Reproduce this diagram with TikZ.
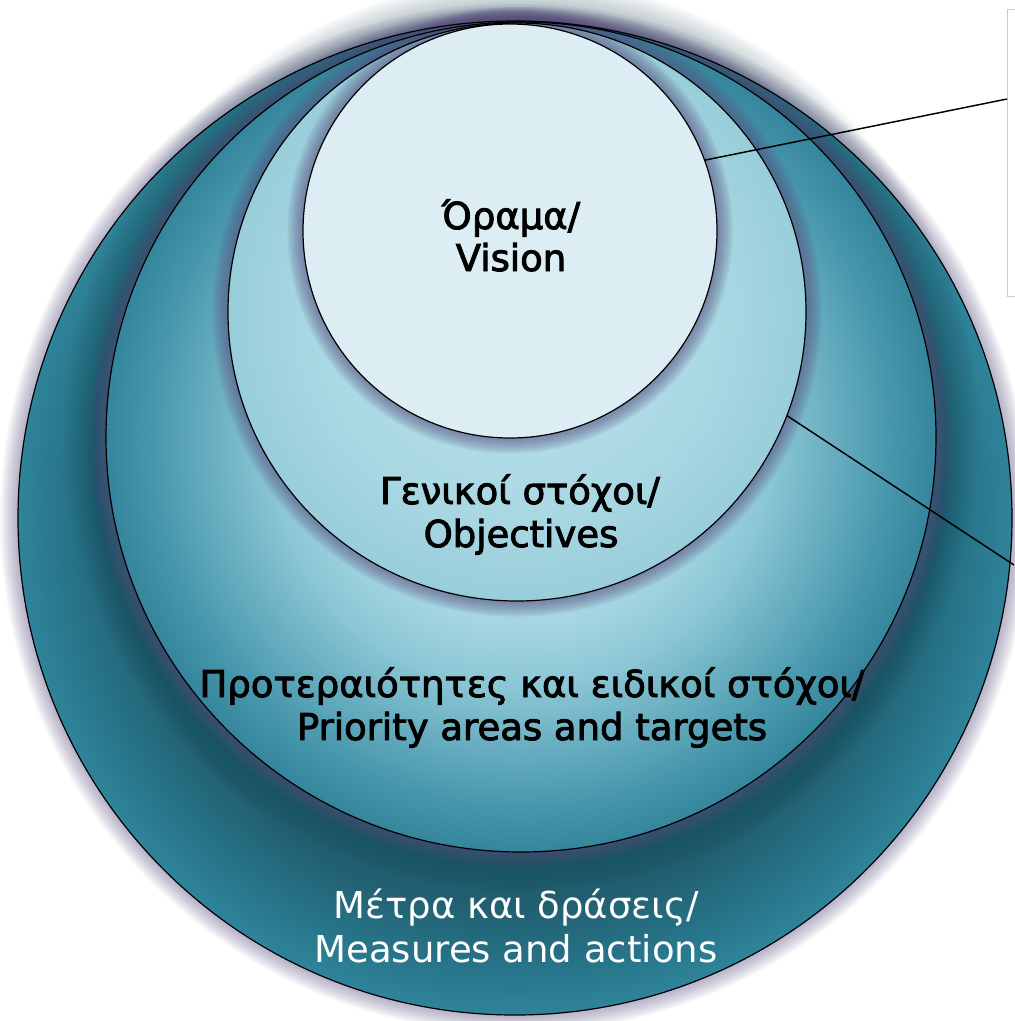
\documentclass[tikz,border=0pt]{standalone}
\usepackage{fontspec}
\setmainfont{DejaVu Sans}
\newfontfamily\heavyfont{DejaVu Sans}[FakeBold=2.5]
\usetikzlibrary{calc}
\definecolor{visfill}{HTML}{DCEEF4}
\definecolor{haloc}{HTML}{5C5282}
\definecolor{shadowc}{HTML}{163E4C}
\definecolor{boxgray}{HTML}{CCCCCC}
\definecolor{oA}{HTML}{1F5A6A}
\definecolor{oB}{HTML}{215F70}
\definecolor{oC}{HTML}{277388}
\definecolor{oD}{HTML}{2F8499}
\definecolor{pA}{HTML}{B5DFEA}
\definecolor{pB}{HTML}{A6D6E2}
\definecolor{pC}{HTML}{8CC7D5}
\definecolor{pD}{HTML}{68AEC0}
\definecolor{pE}{HTML}{4595AB}
\definecolor{pF}{HTML}{35869C}
\definecolor{gA}{HTML}{BEE3EC}
\definecolor{gB}{HTML}{A9D8E3}
\definecolor{gC}{HTML}{98CDDA}
\pgfdeclareradialshading{measshade}{\pgfpointorigin}{color(0bp)=(oA); color(19.5bp)=(oB); color(22.5bp)=(oC); color(25bp)=(oD); color(50bp)=(oD)}
\pgfdeclareradialshading{prioshade}{\pgfpointorigin}{color(0bp)=(pA); color(11.25bp)=(pB); color(15bp)=(pC); color(18.75bp)=(pD); color(22.5bp)=(pE); color(25bp)=(pF); color(50bp)=(pF)}
\pgfdeclareradialshading{objshade}{\pgfpointorigin}{color(0bp)=(gA); color(17.5bp)=(gB); color(25bp)=(gC); color(50bp)=(gC)}
\tikzset{
  disk/.style={circle, inner sep=0pt, outer sep=0pt},
  rim/.style={draw=black, line width=0.9pt},
  lbl/.style={anchor=base, inner sep=0pt, font=\fontsize{27.75}{32}\selectfont},
  darklbl/.style={lbl, font=\fontsize{27.75}{32}\selectfont\heavyfont},
  conn/.style={draw=black, line width=1.1pt},
}
% #1 centre, #2 radius (px), #3 colour, #4 count, #5 step (pt of line width), #6 opacity
\newcommand\ringhalo[6]{%
  \foreach \k in {1,...,#4}{\draw[draw=#3, opacity=#6, line width={#5*\k}] (#1) circle[radius=#2];}}
\begin{document}
\begin{tikzpicture}[x=0.75pt,y=-0.75pt]
\useasboundingbox (0,0) rectangle (1014,1021);
\coordinate (cM) at (515,518);
\coordinate (cP) at (521,437);
\coordinate (cO) at (517,312);
\coordinate (cV) at (510,231);
% disks
\ringhalo{cM}{497}{haloc}{18}{1.5pt}{0.03}
\node[disk, shade, shading=measshade, minimum size={994*0.75pt}] (measures) at (cM) {};
\ringhalo{cP}{415}{shadowc}{14}{4.5pt}{0.035}
\ringhalo{cP}{415}{haloc}{16}{1.5pt}{0.05}
\node[disk, shade, shading=prioshade, minimum size={830*0.75pt}] (priority) at (cP) {};
\ringhalo{cO}{289}{haloc}{16}{1.5pt}{0.05}
\node[disk, shade, shading=objshade, minimum size={578*0.75pt}] (objectives) at (cO) {};
\ringhalo{cV}{207}{haloc}{16}{1.5pt}{0.05}
\node[disk, fill=visfill, minimum size={414*0.75pt}] (vision) at (cV) {};
% rims
\draw[rim] (measures.center) circle[radius=497];
\draw[rim] (priority.center) circle[radius=415];
\draw[rim] (objectives.center) circle[radius=289];
\draw[rim] (vision.center) circle[radius=207];
% labels
\node[darklbl] (v1) at (511,229) {Όραμα/};
\node[darklbl] (v2) at (511,271) {Vision};
\node[darklbl] (o1) at (520,504) {Γενικοί στόχοι/};
\node[darklbl] (o2) at (521,547) {Objectives};
\node[darklbl] (p1) at (532,697) {Προτεραιότητες και ειδικοί στόχοι/};
\node[darklbl] (p2) at (532,740) {Priority areas and targets};
\node[lbl, text=white] (m1) at (516,918) {Μέτρα και δράσεις/};
\node[lbl, text=white] (m2) at (516,962) {Measures and actions};
% callout box and connectors
\node[draw=boxgray, line width=0.75pt, minimum width=60pt, minimum height={287*0.75pt}, anchor=north west, inner sep=0pt] (box) at (1007,9) {};
\coordinate (boxtwo) at (1014,565);
\draw[conn] (vision.20) -- ($(box.north west)+(0,90)$);
\draw[conn] (objectives.-21) -- (boxtwo);
\end{tikzpicture}
\end{document}
